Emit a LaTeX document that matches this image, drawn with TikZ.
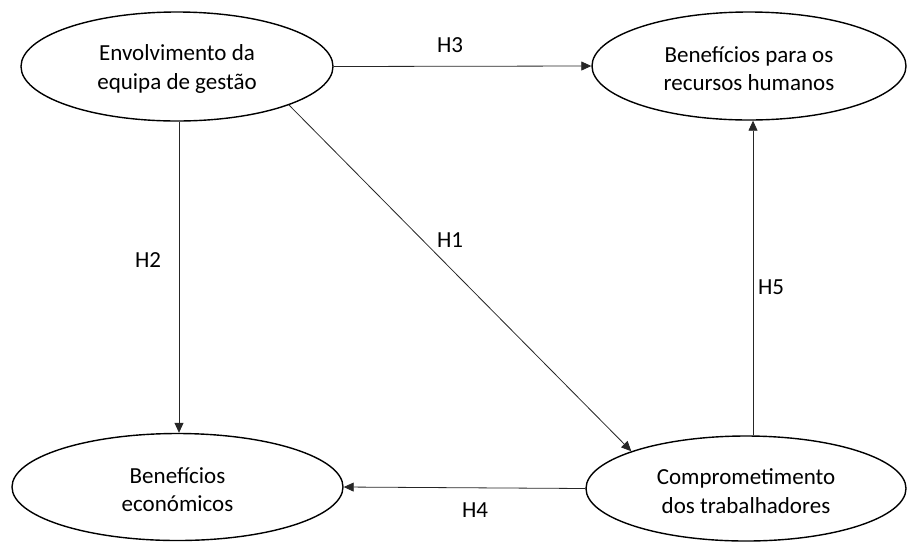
\documentclass[tikz,border=0pt]{standalone}
\usepackage{fontspec}
\setmainfont{Carlito}
\usetikzlibrary{shapes.geometric,arrows.meta}

\tikzset{
  construct/.style={ellipse, draw=black, line width=1.4pt, inner sep=0pt},
  caption/.style={align=center, inner sep=0pt,
    font=\fontsize{23}{28.5}\selectfont},
  path/.style={draw=black!85, line width=0.8pt,
    -{Triangle[length=10pt,width=9pt]}},
  hyp/.style={inner sep=0pt, font=\fontsize{23}{28.5}\selectfont}
}

\begin{document}
\begin{tikzpicture}[x=1pt,y=-1pt]
  \useasboundingbox (0,0) rectangle (907,542);

  % constructs
  \node[construct, minimum width=312pt, minimum height=109pt] (env) at (177,66.5) {};
  \node[construct, minimum width=314pt, minimum height=108pt] (rh) at (749,66) {};
  \node[construct, minimum width=331pt, minimum height=107pt] (eco) at (177.5,487) {};
  \node[construct, minimum width=320pt, minimum height=105pt] (com) at (746,488.5) {};

  % construct names, set slightly below the ellipse centres
  \node[caption] (env-t) at ([yshift=-2.5pt]env.center) {Envolvimento da\\equipa de gestão};
  \node[caption] (rh-t)  at ([yshift=-2.5pt]rh.center)  {Benefícios para os\\recursos humanos};
  \node[caption] (eco-t) at ([yshift=-2.5pt]eco.center) {Benefícios\\económicos};
  \node[caption] (com-t) at ([yshift=-2.5pt]com.center) {Comprometimento\\dos trabalhadores};

  % x positions of the vertical paths
  \coordinate (h2x) at (179,0);
  \coordinate (h5x) at (753,0);

  % hypothesised paths
  \draw[path] (env.east) -- (rh.west);
  \draw[path] (env.south -| h2x) -- (eco.north -| h2x);
  \draw[path] (env.-19.6) -- (com.162.8);
  \draw[path] (com.north -| h5x) -- (rh.south -| h5x);
  \draw[path] (com.west) -- (eco.east);

  % path labels
  \node[hyp] (h3) at (450,45) {H3};
  \node[hyp] (h2) at (148,260) {H2};
  \node[hyp] (h1) at (450,240) {H1};
  \node[hyp] (h5) at (771,287) {H5};
  \node[hyp] (h4) at (475,510) {H4};
\end{tikzpicture}
\end{document}
